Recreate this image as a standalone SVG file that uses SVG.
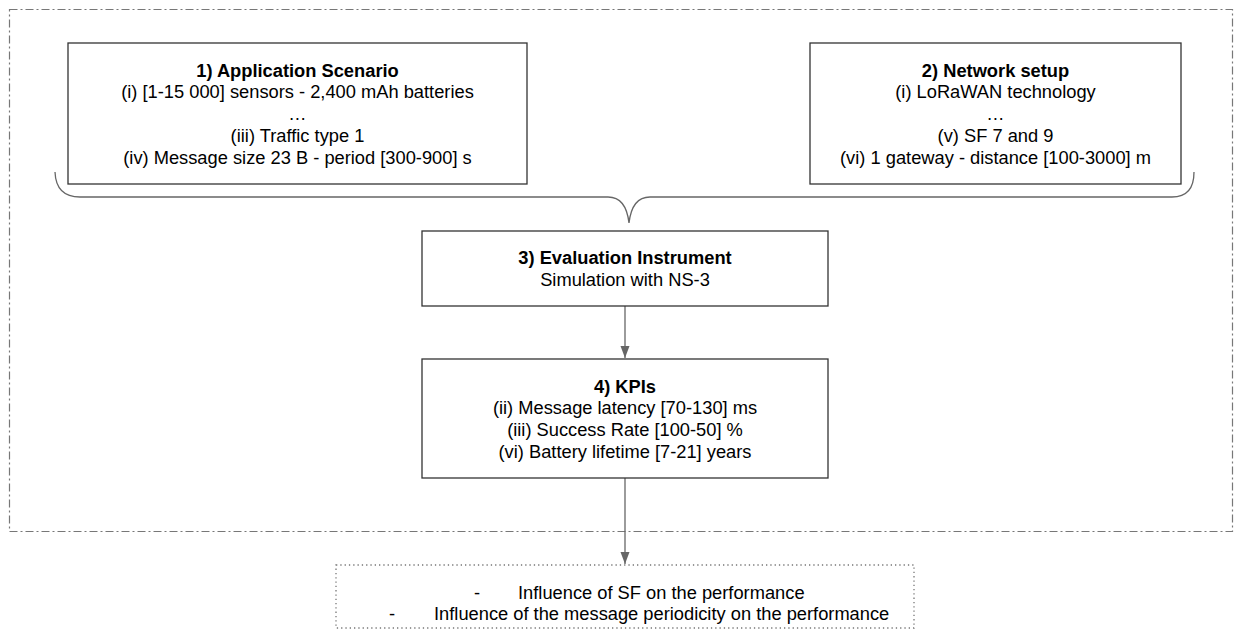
<svg xmlns="http://www.w3.org/2000/svg" width="1235" height="641" viewBox="0 0 1235 641">
<defs>
<marker id="ah" viewBox="0 0 12 10" refX="12" refY="5" markerWidth="12" markerHeight="10" markerUnits="userSpaceOnUse" orient="auto">
<path d="M0,0.5 L12,5 L0,9.5 z" fill="#666"/>
</marker>
<style>
.box{fill:#fff;stroke:#333;stroke-width:1.3}
.t{font-family:"Liberation Sans",Arial,sans-serif;font-size:18.3px;fill:#000;text-anchor:middle}
.s{text-anchor:start}
.b{font-weight:bold}
.con{fill:none;stroke:#666;stroke-width:1.3}
</style>
</defs>
<rect width="1235" height="641" fill="#fff"/>
<rect id="frame" x="9.5" y="9.5" width="1223" height="522" fill="none" stroke="#777" stroke-width="1.2" stroke-dasharray="8,3,2,3"/>
<g id="connectors">
<path class="con" d="M55,172 Q56,197 80,197 L608,197 Q626,197 629,223 Q632,197 650,197 L1172,197 Q1194,197 1194,172"/>
<line class="con" x1="625" y1="306" x2="625" y2="358" marker-end="url(#ah)"/>
<line class="con" x1="625" y1="478" x2="625" y2="564" marker-end="url(#ah)"/>
</g>
<g id="n1">
<rect class="box" x="68" y="43" width="459" height="141"/>
<text class="t b" x="297.5" y="76.6">1) Application Scenario</text>
<text class="t" x="297.5" y="98.4">(i) [1-15 000] sensors - 2,400 mAh batteries</text>
<text class="t" x="297.5" y="120.1">…</text>
<text class="t" x="297.5" y="141.9">(iii) Traffic type 1</text>
<text class="t" x="297.5" y="163.6">(iv) Message size 23 B - period [300-900] s</text>
</g>
<g id="n2">
<rect class="box" x="810" y="43" width="371" height="141"/>
<text class="t b" x="995.5" y="76.6">2) Network setup</text>
<text class="t" x="995.5" y="98.4">(i) LoRaWAN technology</text>
<text class="t" x="995.5" y="120.1">…</text>
<text class="t" x="995.5" y="141.9">(v) SF 7 and 9</text>
<text class="t" x="995.5" y="163.6">(vi) 1 gateway - distance [100-3000] m</text>
</g>
<g id="n3">
<rect class="box" x="422" y="231" width="406" height="75"/>
<text class="t b" x="625" y="264.2">3) Evaluation Instrument</text>
<text class="t" x="625" y="286">Simulation with NS-3</text>
</g>
<g id="n4">
<rect class="box" x="422" y="359" width="406" height="119"/>
<text class="t b" x="625" y="392.5">4) KPIs</text>
<text class="t" x="625" y="414.2">(ii) Message latency [70-130] ms</text>
<text class="t" x="625" y="436">(iii) Success Rate [100-50] %</text>
<text class="t" x="625" y="457.7">(vi) Battery lifetime [7-21] years</text>
</g>
<g id="n5">
<rect x="336" y="565" width="578" height="63" fill="#fff" stroke="#777" stroke-width="1.3" stroke-dasharray="1.3,3"/>
<text class="t s" x="474" y="598.5">-</text>
<text class="t s" x="518" y="598.5">Influence of SF on the performance</text>
<text class="t s" x="389" y="619.5">-</text>
<text class="t s" x="434" y="619.5">Influence of the message periodicity on the performance</text>
</g>
</svg>
